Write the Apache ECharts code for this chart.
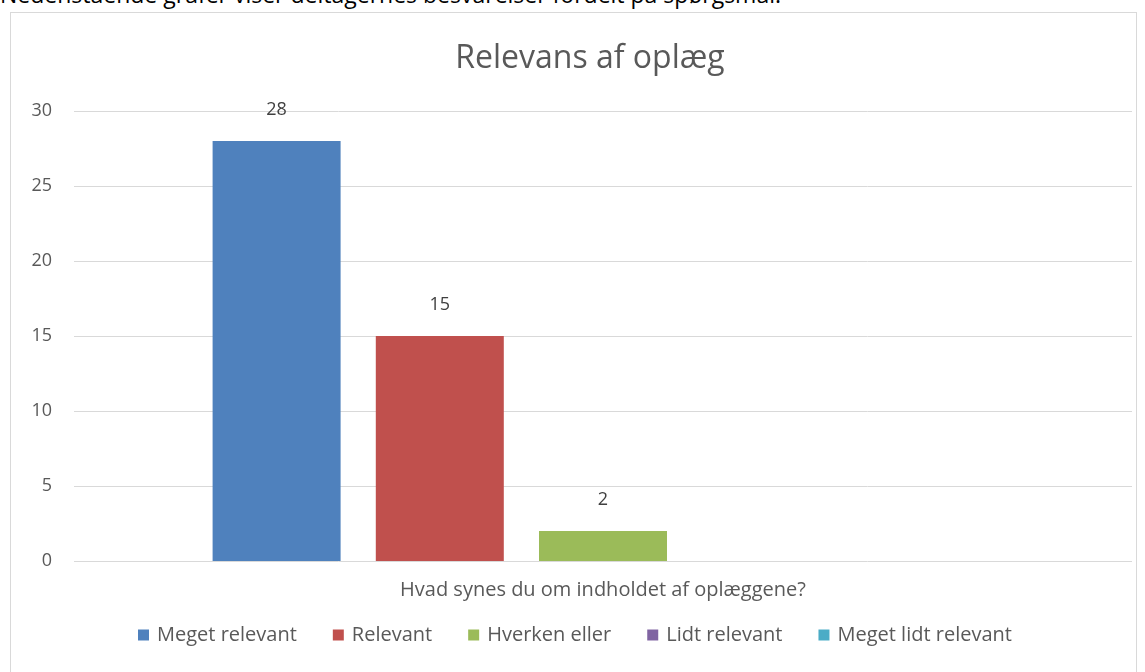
<!DOCTYPE html>
<html>
<head>
<meta charset="utf-8">
<script src="https://cdn.jsdelivr.net/npm/echarts@6/dist/echarts.min.js"></script>
<style>
html,body{margin:0;padding:0;background:#fff;overflow:hidden;}
#top{position:absolute;left:0;top:-22px;font-family:"Open Sans",sans-serif;font-size:23px;color:#000;white-space:nowrap;}
#box{position:absolute;left:10px;top:12px;width:1127px;height:670px;border:1px solid #d9d9d9;box-sizing:border-box;}
#chart{position:absolute;left:0;top:0;width:1145px;height:672px;}
</style>
</head>
<body>
<div id="top">Nedenstående grafer viser deltagernes besvarelser fordelt på spørgsmål.</div>
<div id="box"></div>
<div id="chart"></div>
<script>
const categories = ["Hvad synes du om indholdet af oplæggene?"];
const seriesNames = ["Meget relevant", "Relevant", "Hverken eller", "Lidt relevant", "Meget lidt relevant"];
const seriesValues = [[28], [15], [2], [0], [0]];
const colors = ["#4F81BD", "#C0504D", "#9BBB59", "#8064A2", "#4BACC6"];
const yTicks = [0, 5, 10, 15, 20, 25, 30];

const chart = echarts.init(document.getElementById('chart'), null, {renderer: 'canvas'});
const font = '"Open Sans", sans-serif';
chart.setOption({
  animation: false,
  backgroundColor: 'transparent',
  title: {
    text: 'Relevans af oplæg',
    left: 585, top: 38, textAlign: 'center',
    textStyle: {fontFamily: font, fontSize: 32, fontWeight: 'normal', color: '#595959'}
  },
  legend: {
    data: seriesNames,
    bottom: 22, left: 133,
    itemWidth: 11, itemHeight: 11, itemGap: 36,
    icon: 'rect',
    textStyle: {fontFamily: font, fontSize: 20, color: '#595959', padding: [0, 0, 0, 3]}
  },
  grid: {left: 74, right: 13, top: 111, bottom: 111},
  xAxis: {
    type: 'category',
    data: categories,
    axisLine: {show: false},
    axisTick: {show: false},
    axisLabel: {fontFamily: font, fontSize: 20, color: '#595959', margin: 19}
  },
  yAxis: {
    type: 'value',
    min: yTicks[0], max: yTicks[yTicks.length - 1], interval: 5,
    axisLine: {show: false},
    axisTick: {show: false},
    axisLabel: {fontFamily: font, fontSize: 18, color: '#595959', margin: 22},
    splitLine: {lineStyle: {color: '#d9d9d9', width: 1}}
  },
  series: seriesNames.map((n, i) => ({
    name: n,
    type: 'bar',
    data: seriesValues[i],
    barWidth: 128,
    barGap: '27.5%',
    itemStyle: {color: colors[i]},
    label: {
      show: seriesValues[i][0] > 0,
      position: 'top', distance: 22,
      fontFamily: font, fontSize: 18, color: '#404040'
    }
  }))
});
</script>
</body>
</html>
